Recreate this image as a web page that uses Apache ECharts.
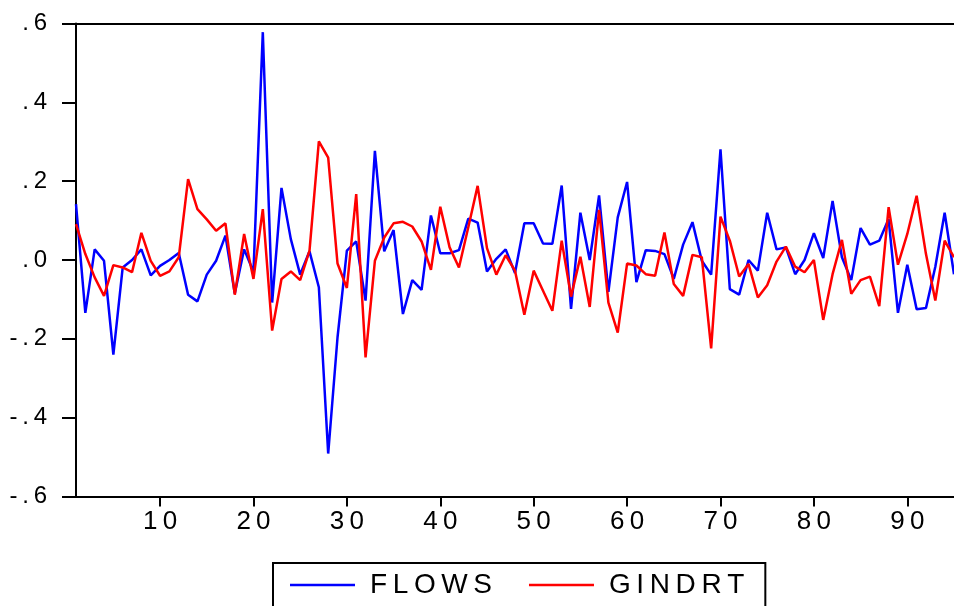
<!DOCTYPE html>
<html>
<head>
<meta charset="utf-8">
<title>FLOWS / GINDRT</title>
<script src="https://cdn.jsdelivr.net/npm/echarts@6.0.0/dist/echarts.min.js"></script>
<style>
  html, body { margin: 0; padding: 0; background: #fff; }
  #chart { width: 954px; height: 606px; }
</style>
</head>
<body>
<div id="chart"></div>
<script>
// observation numbers on the x axis run 1..95
const obsStart = 1
const obsEnd = 95
const xTickValues = [10, 20, 30, 40, 50, 60, 70, 80, 90]

const flows = [
  0.142, -0.134, 0.027, -0.002, -0.240, -0.019, 0.000, 0.027, -0.039, -0.015,
  0.000, 0.018, -0.088, -0.105, -0.037, -0.002, 0.062, -0.085, 0.027, -0.030,
  0.578, -0.108, 0.183, 0.053, -0.037, 0.022, -0.069, -0.491, -0.196, 0.024,
  0.047, -0.103, 0.277, 0.022, 0.076, -0.137, -0.051, -0.076, 0.113, 0.017,
  0.017, 0.025, 0.105, 0.095, -0.029, 0.003, 0.027, -0.033, 0.093, 0.093,
  0.042, 0.041, 0.189, -0.124, 0.120, 0.000, 0.164, -0.081, 0.108, 0.198,
  -0.056, 0.025, 0.023, 0.015, -0.048, 0.039, 0.096, -0.002, -0.037, 0.281,
  -0.074, -0.088, 0.000, -0.027, 0.120, 0.027, 0.032, -0.036, 0.000, 0.068,
  0.005, 0.150, 0.007, -0.051, 0.081, 0.039, 0.049, 0.104, -0.134, -0.012,
  -0.125, -0.122, -0.017, 0.120, -0.036
]

const gindrt = [
  0.091, 0.015, -0.044, -0.091, -0.013, -0.019, -0.031, 0.069, -0.002, -0.040,
  -0.029, 0.007, 0.205, 0.129, 0.103, 0.074, 0.093, -0.088, 0.066, -0.048,
  0.129, -0.179, -0.048, -0.029, -0.051, 0.024, 0.301, 0.260, -0.009, -0.071,
  0.167, -0.247, -0.002, 0.057, 0.093, 0.097, 0.085, 0.047, -0.025, 0.135,
  0.032, -0.019, 0.083, 0.188, 0.030, -0.037, 0.012, -0.027, -0.139, -0.027,
  -0.078, -0.129, 0.049, -0.093, 0.008, -0.119, 0.127, -0.108, -0.184, -0.009,
  -0.014, -0.036, -0.040, 0.070, -0.061, -0.091, 0.013, 0.007, -0.224, 0.110,
  0.049, -0.042, -0.010, -0.095, -0.064, -0.004, 0.034, -0.017, -0.031, 0.000,
  -0.152, -0.036, 0.051, -0.086, -0.051, -0.042, -0.117, 0.134, -0.012, 0.066,
  0.163, 0.015, -0.103, 0.049, 0.007
]

const FONT = '"Liberation Sans", Arial, sans-serif'
const THIN = '\u2009'

// spread the letters a little, EViews style
const spaced = (s) => String(s).split('').join(THIN)

// .6 / -.4 / .0 style labels
const yFormatter = (v) => {
  let s = (Math.round(v * 10) / 10).toFixed(1)
  s = s.replace(/^(-?)0\./, '$1.')
  return spaced(s)
}

const toPairs = (arr) => arr.map((v, i) => [obsStart + i, v])

const chart = echarts.init(document.getElementById('chart'), null, { renderer: 'canvas' })

const option = {
  animation: false,
  backgroundColor: '#ffffff',
  grid: {
    left: 76,
    right: 0,
    top: 23.5,
    bottom: 109.5,
    containLabel: false
  },
  xAxis: [
    {
      type: 'value',
      min: obsStart,
      max: obsEnd,
      position: 'bottom',
      splitLine: { show: false },
      axisLine: { show: true, onZero: false, lineStyle: { color: '#000', width: 2 } },
      axisTick: {
        show: true,
        length: 10,
        customValues: xTickValues,
        lineStyle: { color: '#000', width: 2 }
      },
      axisLabel: {
        customValues: xTickValues,
        margin: 12,
        color: '#000',
        fontSize: 26,
        fontFamily: FONT,
        formatter: (v) => spaced(v)
      }
    },
    {
      // top frame line
      type: 'value',
      min: obsStart,
      max: obsEnd,
      position: 'top',
      splitLine: { show: false },
      axisLine: { show: true, onZero: false, lineStyle: { color: '#000', width: 2 } },
      axisTick: { show: false },
      axisLabel: { show: false }
    }
  ],
  yAxis: {
    type: 'value',
    min: -0.6,
    max: 0.6,
    interval: 0.2,
    splitLine: { show: false },
    axisLine: { show: true, onZero: false, lineStyle: { color: '#000', width: 2 } },
    axisTick: { show: true, length: 14, lineStyle: { color: '#000', width: 2 } },
    axisLabel: {
      margin: 29,
      color: '#000',
      fontSize: 24,
      fontFamily: FONT,
      formatter: yFormatter
    }
  },
  legend: {
    left: 273,
    top: 563,
    orient: 'horizontal',
    padding: [8, 21, 10, 17],
    itemGap: 37,
    itemWidth: 65,
    itemHeight: 2.5,
    icon: 'rect',
    borderColor: '#000',
    borderWidth: 2,
    borderRadius: 0,
    backgroundColor: '#fff',
    textStyle: {
      color: '#000',
      fontSize: 28,
      fontFamily: FONT,
      padding: [0, 0, 0, 10]
    },
    formatter: (name) => spaced(name),
    data: ['FLOWS', 'GINDRT']
  },
  series: [
    {
      name: 'FLOWS',
      type: 'line',
      xAxisIndex: 0,
      data: toPairs(flows),
      symbol: 'none',
      color: '#0000ff',
      lineStyle: { color: '#0000ff', width: 2.5 }
    },
    {
      name: 'GINDRT',
      type: 'line',
      xAxisIndex: 0,
      data: toPairs(gindrt),
      symbol: 'none',
      color: '#ff0000',
      lineStyle: { color: '#ff0000', width: 2.5 }
    }
  ]
}

chart.setOption(option)
</script>
</body>
</html>
